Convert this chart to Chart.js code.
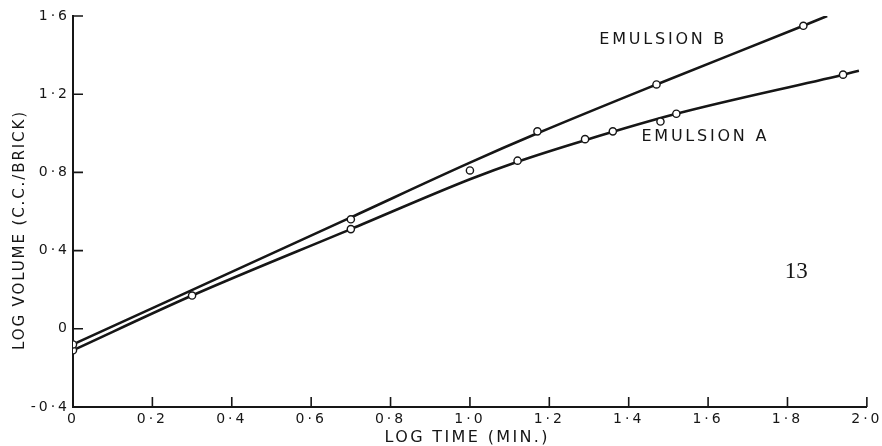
<!DOCTYPE html>
<html>
<head>
<meta charset="utf-8">
<script src="https://cdn.jsdelivr.net/npm/chart.js@4.4.0/dist/chart.umd.min.js"></script>
<style>
  html, body { margin: 0; padding: 0; background: #fff; }
</style>
</head>
<body>
<canvas id="fig" width="882" height="446"></canvas>
<script>
// measured points
var timeA = [0, 0.30, 0.70, 1.12, 1.29, 1.36, 1.48, 1.52, 1.94];
var volA = [-0.11, 0.17, 0.51, 0.86, 0.97, 1.01, 1.06, 1.10, 1.30];
var timeB = [0, 0.70, 1.00, 1.17, 1.47, 1.84];
var volB = [-0.08, 0.56, 0.81, 1.01, 1.25, 1.55];

// drawn curves
var curveTimeA = [0, 0.30, 0.70, 1.00, 1.12, 1.29, 1.52, 1.94, 1.98];
var curveVolA = [-0.11, 0.17, 0.51, 0.765, 0.855, 0.965, 1.10, 1.30, 1.32];
var curveTimeB = [0, 0.70, 1.00, 1.17, 1.47, 1.84, 1.90];
var curveVolB = [-0.08, 0.57, 0.85, 1.00, 1.25, 1.55, 1.60];

var xTickLabels = ['0', '0·2', '0·4', '0·6', '0·8', '1·0', '1·2', '1·4', '1·6', '1·8', '2·0'];
var yTickLabels = ['-0·4', '0', '0·4', '0·8', '1·2', '1·6'];

var ink = '#161616';
var sans = '"DejaVu Sans", sans-serif';

function toPoints(xs, ys) {
    return xs.map(function(x, i) {
        return { x: x, y: ys[i] };
    });
}

function spacedText(ctx, text, x, y, width, align) {
    ctx.letterSpacing = '0px';
    var w = ctx.measureText(text).width;
    var gap = (width - w) / (text.length - 1);
    ctx.letterSpacing = gap + 'px';
    var start = x;
    if (align === 'center') start = x - width / 2;
    ctx.textAlign = 'left';
    ctx.fillText(text, start, y);
    ctx.letterSpacing = '0px';
}

var figureMarks = {
    id: 'figureMarks',
    beforeDraw: function(chart) {
        chart.ctx.letterSpacing = '3px';
    },
    afterDraw: function(chart) {
        var ctx = chart.ctx;
        var xs = chart.scales.x, ys = chart.scales.y;
        var area = chart.chartArea;
        ctx.save();
        ctx.letterSpacing = '0px';

        // inward tick marks
        ctx.strokeStyle = ink;
        ctx.lineWidth = 1.6;
        ctx.beginPath();
        xs.ticks.forEach(function(t) {
            var px = xs.getPixelForValue(t.value);
            ctx.moveTo(px, area.bottom);
            ctx.lineTo(px, area.bottom - 10);
        });
        ys.ticks.forEach(function(t) {
            var py = ys.getPixelForValue(t.value);
            ctx.moveTo(area.left, py);
            ctx.lineTo(area.left + 10, py);
        });
        ctx.stroke();

        ctx.fillStyle = ink;
        ctx.textBaseline = 'middle';

        // axis titles
        ctx.font = '16px ' + sans;
        spacedText(ctx, 'LOG TIME (MIN.)', 466, 438, 163, 'center');

        ctx.save();
        ctx.translate(20, 231);
        ctx.rotate(-Math.PI / 2);
        ctx.font = '15px ' + sans;
        spacedText(ctx, 'LOG VOLUME (C.C./BRICK)', 0, 0, 238, 'center');
        ctx.restore();

        // curve labels
        ctx.font = '16px ' + sans;
        spacedText(ctx, 'EMULSION B', xs.getPixelForValue(1.326), ys.getPixelForValue(1.477), 125, 'left');
        spacedText(ctx, 'EMULSION A', xs.getPixelForValue(1.432), ys.getPixelForValue(0.98), 125, 'left');

        ctx.font = '23px "Liberation Serif", serif';
        ctx.textAlign = 'center';
        ctx.fillText('13', xs.getPixelForValue(1.822), ys.getPixelForValue(0.29));

        ctx.restore();
    }
};

var curveStyle = {
    showLine: true,
    borderColor: ink,
    borderWidth: 2.6,
    pointRadius: 0,
    cubicInterpolationMode: 'monotone',
    fill: false
};

var dotStyle = {
    showLine: false,
    pointRadius: 3.6,
    pointBorderWidth: 1.4,
    pointBackgroundColor: '#fff',
    pointBorderColor: ink
};

const ctx = document.getElementById('fig').getContext('2d');
const fig = new Chart(ctx, {
    type: 'scatter',
    data: {
        datasets: [
            Object.assign({ label: 'Emulsion B curve', data: toPoints(curveTimeB, curveVolB), order: 2 }, curveStyle),
            Object.assign({ label: 'Emulsion A curve', data: toPoints(curveTimeA, curveVolA), order: 2 }, curveStyle),
            Object.assign({ label: 'Emulsion B', data: toPoints(timeB, volB), order: 1 }, dotStyle),
            Object.assign({ label: 'Emulsion A', data: toPoints(timeA, volA), order: 1 }, dotStyle)
        ]
    },
    options: {
        responsive: false,
        animation: false,
        events: [],
        layout: {
            padding: { top: 16, right: 15, left: 0, bottom: 0 }
        },
        plugins: {
            legend: { display: false },
            tooltip: { enabled: false }
        },
        scales: {
            x: {
                type: 'linear',
                min: 0,
                max: 2,
                border: { display: true, color: ink, width: 2 },
                grid: { display: false, drawTicks: false },
                ticks: {
                    stepSize: 0.2,
                    autoSkip: false,
                    maxRotation: 0,
                    padding: 4,
                    color: ink,
                    font: { family: sans, size: 14 },
                    callback: function(value, index) {
                        return xTickLabels[index];
                    }
                },
                afterFit: function(scale) {
                    scale.height = 39;
                }
            },
            y: {
                type: 'linear',
                min: -0.4,
                max: 1.6,
                border: { display: true, color: ink, width: 2 },
                grid: { display: false, drawTicks: false },
                ticks: {
                    stepSize: 0.4,
                    autoSkip: false,
                    padding: 3,
                    color: ink,
                    font: { family: sans, size: 14 },
                    callback: function(value, index) {
                        return yTickLabels[index];
                    }
                },
                afterFit: function(scale) {
                    scale.width = 73;
                }
            }
        }
    },
    plugins: [figureMarks]
});
</script>
</body>
</html>
